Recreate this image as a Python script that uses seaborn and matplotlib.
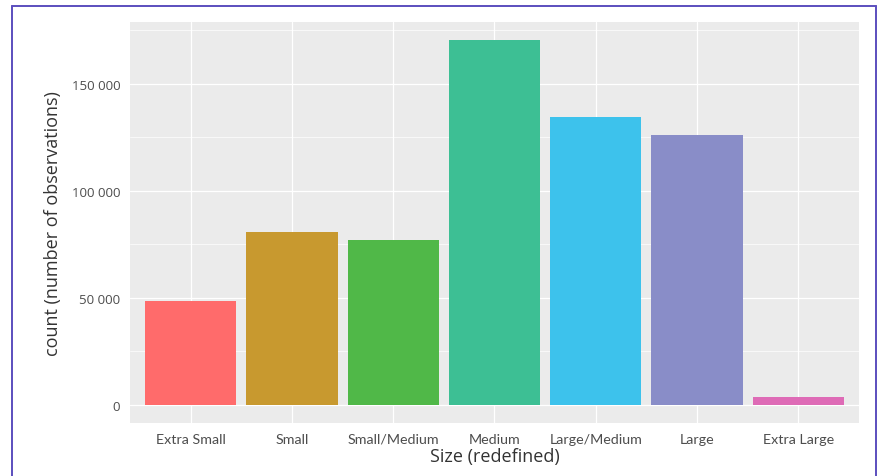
import matplotlib
matplotlib.use("Agg")
import matplotlib.pyplot as plt
import seaborn as sns
import pandas as pd
from matplotlib.ticker import FuncFormatter, MultipleLocator
from matplotlib.lines import Line2D

categories = ["Extra Small", "Small", "Small/Medium", "Medium", "Large/Medium", "Large", "Extra Large"]
counts = [48600, 80600, 76900, 170400, 134500, 126300, 3500]
colors = ["#FF6B6B", "#C8992F", "#50B848", "#3DBF94", "#3DC2EC", "#898DC8", "#DE6BB6"]
y_ticks = [0, 50000, 100000, 150000]

df = pd.DataFrame({"size": categories, "count": counts})

sns.set_theme(style="white")
fig = plt.figure(figsize=(8.79, 4.77), dpi=100)
ax = fig.add_axes([130/879, 1-424/477, (859-130)/879, (424-23)/477])
sns.barplot(data=df, x="size", y="count", hue="size", order=categories,
            palette=colors, saturation=1, width=0.9, legend=False, ax=ax,
            edgecolor="none", linewidth=0)

ymax = max(counts)
ax.set_ylim(-0.05*ymax, 1.05*ymax)
ax.set_xlim(-0.6, len(categories)-0.4)
ax.set_facecolor("#EBEBEB")
for s in ax.spines.values():
    s.set_visible(False)
ax.set_yticks(y_ticks)
ax.yaxis.set_minor_locator(MultipleLocator(25000))
ax.yaxis.set_major_formatter(FuncFormatter(lambda v, p: f"{int(v):,}".replace(",", " ")))
ax.set_axisbelow(True)
ax.grid(which="major", axis="both", color="white", linewidth=0.9)
ax.grid(which="minor", axis="y", color="white", linewidth=0.5)
ax.tick_params(axis="both", which="both", length=0)
ax.tick_params(axis="y", pad=7, labelsize=9.5, labelcolor="#4D4D4D")
ax.tick_params(axis="x", pad=7, labelsize=10.3, labelcolor="#4D4D4D")
for lab in ax.get_yticklabels():
    lab.set_fontfamily(["Open Sans", "DejaVu Sans"])
for lab in ax.get_xticklabels():
    lab.set_fontfamily(["Lato", "DejaVu Sans"])

ax.set_ylabel("count (number of observations)", fontsize=13, color="#333333",
              family=["Open Sans", "DejaVu Sans"], labelpad=7)
ax.set_xlabel("Size (redefined)", fontsize=13, color="#333333",
              family=["Open Sans", "DejaVu Sans"], labelpad=2)

# purple frame
fc = "#5B4EBE"
fig.add_artist(Line2D([12/879, 12/879], [-0.05, 1-7/477], transform=fig.transFigure, color=fc, linewidth=1.4))
fig.add_artist(Line2D([12/879, 876/879], [1-7/477, 1-7/477], transform=fig.transFigure, color=fc, linewidth=1.4))
fig.add_artist(Line2D([876/879, 876/879], [-0.05, 1-7/477], transform=fig.transFigure, color=fc, linewidth=1.4))

fig.savefig("out.png", dpi=100)
